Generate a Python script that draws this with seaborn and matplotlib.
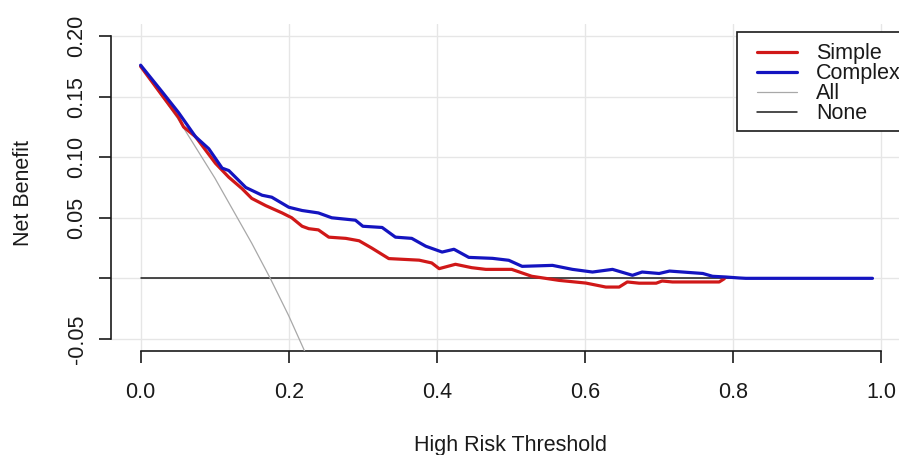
import matplotlib
matplotlib.use("Agg")
import matplotlib.pyplot as plt
from matplotlib.patches import Rectangle
from matplotlib.lines import Line2D
import seaborn as sns
import pandas as pd

# ---- data ----
simple_t = [0.000, 0.029, 0.051, 0.058, 0.074, 0.101, 0.119, 0.137, 0.150, 0.169,
            0.191, 0.204, 0.218, 0.227, 0.240, 0.254, 0.277, 0.295, 0.312, 0.335,
            0.376, 0.393, 0.403, 0.425, 0.447, 0.466, 0.501, 0.528, 0.565, 0.601,
            0.628, 0.646, 0.657, 0.673, 0.696, 0.704, 0.718, 0.781, 0.788]
simple_nb = [0.175, 0.151, 0.133, 0.125, 0.117, 0.095, 0.0835, 0.074, 0.066, 0.060,
             0.054, 0.050, 0.043, 0.041, 0.040, 0.034, 0.033, 0.031, 0.025, 0.0163,
             0.015, 0.0127, 0.008, 0.0116, 0.0088, 0.0074, 0.0074, 0.0017, -0.0017, -0.0039,
             -0.0072, -0.0072, -0.003, -0.004, -0.004, -0.0022, -0.003, -0.003, -0.0003]

complex_t = [0.000, 0.029, 0.051, 0.074, 0.092, 0.110, 0.119, 0.142, 0.164, 0.177,
             0.200, 0.218, 0.240, 0.258, 0.290, 0.300, 0.326, 0.344, 0.366, 0.385,
             0.407, 0.423, 0.443, 0.475, 0.497, 0.515, 0.556, 0.583, 0.610, 0.637,
             0.664, 0.677, 0.700, 0.714, 0.759, 0.772, 0.790, 0.808, 0.817, 0.988]
complex_nb = [0.176, 0.154, 0.137, 0.117, 0.107, 0.091, 0.089, 0.075, 0.0686, 0.067,
              0.0587, 0.056, 0.054, 0.050, 0.048, 0.043, 0.042, 0.034, 0.033, 0.0265,
              0.0217, 0.024, 0.0173, 0.0165, 0.0149, 0.0099, 0.0107, 0.0074, 0.0052, 0.0074,
              0.0025, 0.0052, 0.004, 0.006, 0.004, 0.0017, 0.0011, 0.0003, 0.0, 0.0]

all_t = [0.000, 0.050, 0.100, 0.150, 0.175, 0.200, 0.225]
all_nb = [0.175, 0.132, 0.083, 0.029, 0.000, -0.031, -0.065]

none_t = [0.000, 0.988]
none_nb = [0.0, 0.0]

x_ticks = [0.0, 0.2, 0.4, 0.6, 0.8, 1.0]
x_ticklabels = ["0.0", "0.2", "0.4", "0.6", "0.8", "1.0"]
y_ticks = [-0.05, 0.0, 0.05, 0.10, 0.15, 0.20]
y_ticklabels = ["-0.05", "", "0.05", "0.10", "0.15", "0.20"]

series_names = ["Simple", "Complex", "All", "None"]
colors = {"Simple": "#d01818", "Complex": "#1414c0", "All": "#a8a8a8", "None": "#1a1a1a"}
widths = {"Simple": 2.3, "Complex": 2.3, "All": 0.9, "None": 1.1}

# ---- style ----
sns.set_theme(style="white")
plt.rcParams["font.family"] = ["Liberation Sans", "DejaVu Sans"]
FS = 15.5
TXT = "#1a1a1a"

W, H = 899, 455
fig = plt.figure(figsize=(W / 100, H / 100), dpi=100)
ax_left, ax_w = 111, 800
ax_top, ax_bot = 24, 351
ax = fig.add_axes([ax_left / W, (H - ax_bot) / H, ax_w / W, (ax_bot - ax_top) / H])

ax.set_xlim(-0.04, 1.04)
ax.set_ylim(-0.06, 0.21)

# grid
for xv in x_ticks:
    ax.axvline(xv, color="#e6e6e6", lw=1.0, zorder=0)
for yv in y_ticks:
    ax.axhline(yv, color="#e6e6e6", lw=1.0, zorder=0)

order = [("None", none_t, none_nb), ("All", all_t, all_nb),
         ("Simple", simple_t, simple_nb), ("Complex", complex_t, complex_nb)]
for i, (name, t, nb) in enumerate(order):
    df = pd.DataFrame({"t": t, "nb": nb})
    sns.lineplot(data=df, x="t", y="nb", ax=ax, color=colors[name], lw=widths[name],
                 estimator=None, sort=False, zorder=2 + i)

# axes styling (R-like, bty = "n")
for s in ["top", "right"]:
    ax.spines[s].set_visible(False)
for s in ["left", "bottom"]:
    ax.spines[s].set_color(TXT)
    ax.spines[s].set_linewidth(1.2)
ax.spines["left"].set_bounds(-0.05, 0.20)
ax.spines["bottom"].set_bounds(0.0, 1.0)

ax.set_xticks(x_ticks)
ax.set_xticklabels(x_ticklabels)
ax.set_yticks(y_ticks)
ax.set_yticklabels(y_ticklabels, rotation=90, va="center")
ax.tick_params(axis="both", which="major", bottom=True, left=True, direction="out",
               length=8.6, width=1.2, color=TXT, labelsize=FS, labelcolor=TXT)
ax.tick_params(axis="x", pad=14)
ax.tick_params(axis="y", pad=8.3)

ax.set_xlabel("High Risk Threshold", fontsize=FS, color=TXT, va="center")
ax.xaxis.set_label_coords((511 - ax_left) / ax_w, -(446 - ax_bot) / (ax_bot - ax_top))
ax.set_ylabel("Net Benefit", fontsize=FS, color=TXT, va="center")
ax.yaxis.set_label_coords((23 - ax_left) / ax_w, (ax_bot - 193) / (ax_bot - ax_top))

# legend (box drawn as in R's legend())
box = Rectangle((737 / W, (H - 131) / H), 180 / W, 99 / H, transform=fig.transFigure,
                facecolor="white", edgecolor=TXT, lw=1.2, zorder=10)
fig.patches.append(box)
handles = [Line2D([], [], color=colors[n], lw=widths[n]) for n in series_names]
leg = fig.legend(handles, series_names, loc="upper left",
                 bbox_to_anchor=(757 / W, 1 - 43.5 / H), frameon=False,
                 fontsize=FS, borderpad=0, borderaxespad=0, handlelength=1.86,
                 handletextpad=0.88, labelspacing=-0.05)
leg.set_zorder(11)
for txt in leg.get_texts():
    txt.set_color(TXT)

fig.savefig("out.png", dpi=100)
